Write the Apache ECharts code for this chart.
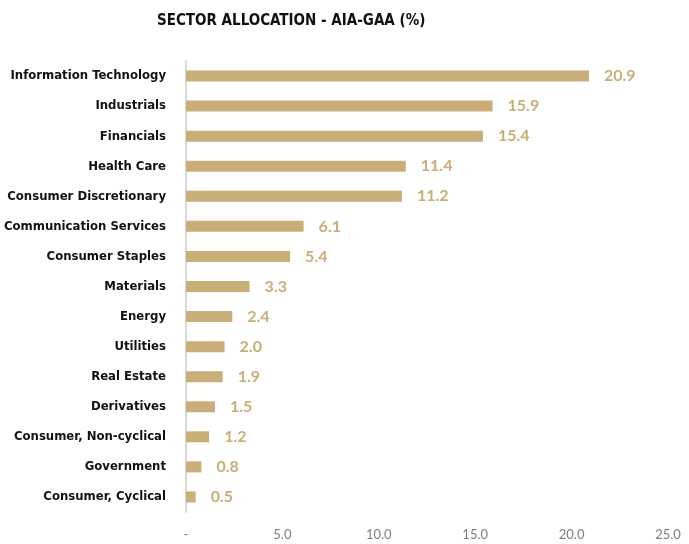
<!DOCTYPE html>
<html>
<head>
<meta charset="utf-8">
<script src="https://cdn.jsdelivr.net/npm/echarts@6/dist/echarts.min.js"></script>
<style>
  html, body { margin: 0; padding: 0; background: #fff; }
  #chart { width: 689px; height: 544px; }
</style>
</head>
<body>
<div id="chart"></div>
<script>
// 板块配置 — 自上而下
const sectors = [
  'Information Technology', 'Industrials', 'Financials', 'Health Care',
  'Consumer Discretionary', 'Communication Services', 'Consumer Staples',
  'Materials', 'Energy', 'Utilities', 'Real Estate', 'Derivatives',
  'Consumer, Non-cyclical', 'Government', 'Consumer, Cyclical',
];
const weights = [20.9, 15.9, 15.4, 11.4, 11.2, 6.1, 5.4, 3.3, 2.4, 2.0, 1.9, 1.5, 1.2, 0.8, 0.5];
const xTicks = [0, 5, 10, 15, 20, 25];

const GOLD = '#c9ae78';
const NARROW = '"DejaVu Sans Condensed", "Liberation Sans Narrow", sans-serif';
const chart = echarts.init(document.getElementById('chart'), null, { renderer: 'canvas' });

chart.setOption({
  backgroundColor: '#fff',
  animation: false,
  title: {
    text: 'SECTOR ALLOCATION - AIA-GAA (%)',
    left: 152,
    top: 9,
    textStyle: {
      fontFamily: NARROW,
      fontSize: 15,
      fontWeight: 'bold',
      color: '#111',
    },
  },
  grid: { left: 186, right: 21, top: 61, bottom: 32, outerBoundsMode: 'none' },
  xAxis: {
    type: 'value',
    min: xTicks[0],
    max: xTicks[xTicks.length - 1],
    interval: 5,
    splitLine: { show: false },
    axisLine: { show: false },
    axisTick: { show: false },
    axisLabel: {
      margin: 16,
      color: '#7f7f7f',
      fontFamily: 'Lato, sans-serif',
      fontSize: 13,
      formatter: (v) => (v === 0 ? '-' : v.toFixed(1)),
    },
  },
  yAxis: {
    type: 'category',
    data: sectors,
    inverse: true,
    axisLine: { show: true, lineStyle: { color: '#d9d9d9', width: 2 } },
    axisTick: { show: false },
    axisLabel: {
      margin: 20,
      color: '#111',
      fontFamily: NARROW,
      fontSize: 13,
      fontWeight: 'bold',
    },
  },
  series: [{
    type: 'bar',
    data: weights,
    barWidth: 11,
    itemStyle: { color: GOLD },
    label: {
      show: true,
      position: 'right',
      distance: 15,
      color: GOLD,
      fontFamily: 'Lato, sans-serif',
      fontSize: 16,
      fontWeight: 'bold',
      formatter: (p) => p.value.toFixed(1),
    },
  }],
});
</script>
</body>
</html>
